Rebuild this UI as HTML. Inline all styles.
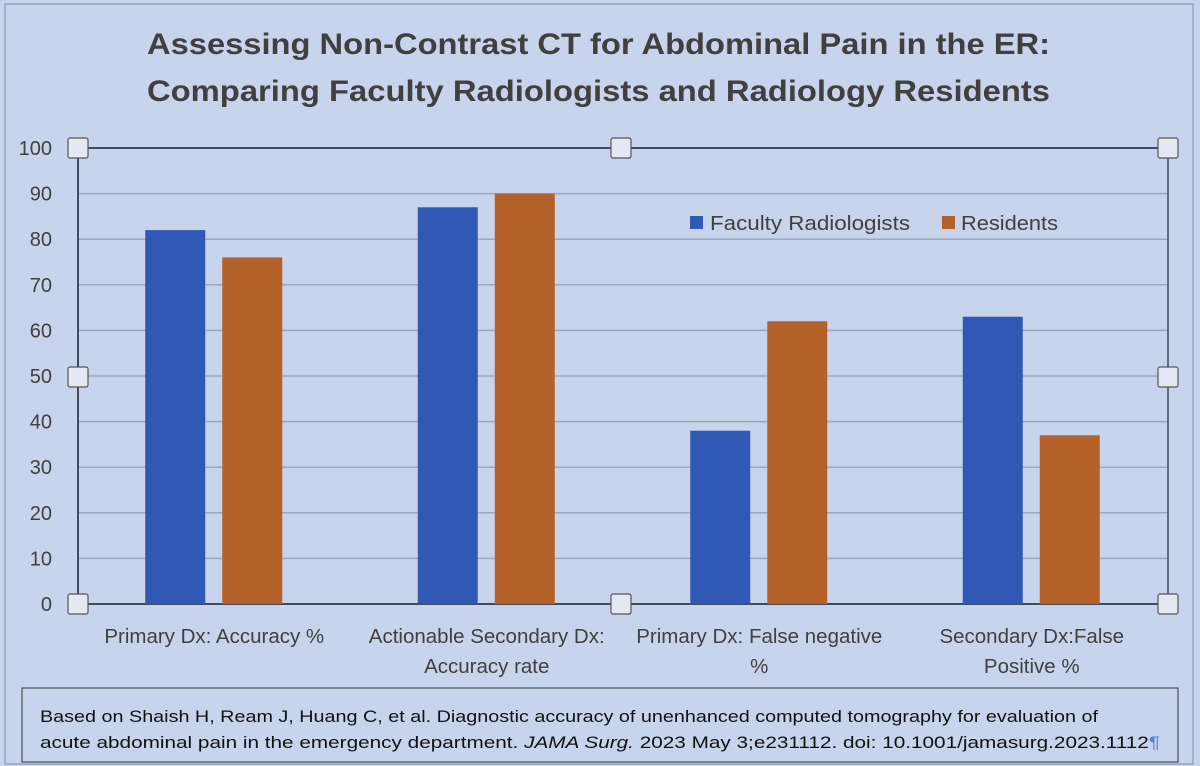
<!DOCTYPE html>
<html><head><meta charset="utf-8"><style>
body{margin:0;background:#c8d4ec;}
svg{display:block;font-family:"Liberation Sans",sans-serif;}
</style></head><body>
<svg id="c" width="1200" height="766" viewBox="0 0 1200 766">
<rect x="0" y="0" width="1200" height="766" fill="#c8d4ec"/>
<rect x="5" y="4" width="1188" height="760" fill="none" stroke="#9aa4b8" stroke-width="1.5"/>
<text x="147" y="54" textLength="903" lengthAdjust="spacingAndGlyphs" font-size="30" font-weight="bold" fill="#404040">Assessing Non-Contrast CT for Abdominal Pain in the ER:</text>
<text x="147" y="101" textLength="903" lengthAdjust="spacingAndGlyphs" font-size="30" font-weight="bold" fill="#404040">Comparing Faculty Radiologists and Radiology Residents</text>
<g id="grid"></g><g id="bars"></g><g id="labels"></g>
<rect x="690" y="216" width="13" height="13" fill="#3059b6"/>
<text x="710" y="230" textLength="200" lengthAdjust="spacingAndGlyphs" font-size="20" fill="#404040">Faculty Radiologists</text>
<rect x="942" y="216" width="13" height="13" fill="#b5622a"/>
<text x="961" y="230" textLength="97" lengthAdjust="spacingAndGlyphs" font-size="20" fill="#404040">Residents</text>
<rect x="22" y="688" width="1156" height="74" fill="#c8d4ec" stroke="#333" stroke-width="1"/>
<text x="40" y="722" textLength="1058" lengthAdjust="spacingAndGlyphs" font-size="17" fill="#111">Based on Shaish H, Ream J, Huang C, et al. Diagnostic accuracy of unenhanced computed tomography for evaluation of</text>
<text x="40" y="748" textLength="1120" lengthAdjust="spacingAndGlyphs" font-size="17" fill="#111">acute abdominal pain in the emergency department. <tspan font-style="italic">JAMA Surg.</tspan> 2023 May 3;e231112. doi: 10.1001/jamasurg.2023.1112<tspan fill="#4a86d8">¶</tspan></text>
</svg>
<script>
const categories=[["Primary  Dx: Accuracy %"],["Actionable Secondary Dx:","Accuracy rate"],["Primary  Dx: False negative","%"],["Secondary Dx:False","Positive %"]];
const faculty=[82,87,38,63];
const residents=[76,90,62,37];
const ticks=[0,10,20,30,40,50,60,70,80,90,100];
const NS="http://www.w3.org/2000/svg";
const X0=78,X1=1168,Y0=604,Y1=148;
const y=v=>Y0-(v/100)*(Y0-Y1);
const bw=(X1-X0)/categories.length;
const x=i=>X0+bw*i+bw/2;
function mk(t,a,p){const e=document.createElementNS(NS,t);for(const k in a)e.setAttribute(k,a[k]);p.appendChild(e);return e;}
const g=document.getElementById('grid'),b=document.getElementById('bars'),l=document.getElementById('labels');
ticks.forEach(t=>{
 const ln=mk('line',{x1:X0,x2:X1,y1:y(t),y2:y(t),stroke:(t===0||t===100)?'#404a5a':'#9ba6bf','stroke-width':(t===0||t===100)?2:1.5},g);
 
 
 const tx=mk('text',{x:52,y:y(t)+7,'text-anchor':'end','font-size':20,fill:'#404040'},l);
 tx.textContent=t;
 
 
});
let ax=mk('line',{x1:X0,x2:X0,y1:Y1,y2:Y0,stroke:'#404a5a','stroke-width':2},g);


let ax2=mk('line',{x1:X1,x2:X1,y1:Y1,y2:Y0,stroke:'#404a5a','stroke-width':1.5},g);


categories.forEach((c,i)=>{
 const cx=x(i);
 const r1=mk('rect',{x:cx-69,y:y(faculty[i]),width:60,height:Y0-y(faculty[i]),fill:'#3059b6'},b);
 
 
 const r2=mk('rect',{x:cx+8,y:y(residents[i]),width:60,height:Y0-y(residents[i]),fill:'#b5622a'},b);
 
 
 c.forEach((s,j)=>{
  const t=mk('text',{x:cx,y:643+j*30,'text-anchor':'middle','font-size':20.5,fill:'#404040'},l);
  t.textContent=s;
  
  
 });
});
[[X0,Y1],[621,Y1],[X1,Y1],[X0,377],[X1,377],[X0,Y0],[621,Y0],[X1,Y0]].forEach((p,k)=>{
 const h=mk('rect',{x:p[0]-10,y:p[1]-10,width:20,height:20,rx:2,fill:'#e4e8f2',stroke:'#555','stroke-width':1.2},l);
 
 
});
</script>
</body></html>
